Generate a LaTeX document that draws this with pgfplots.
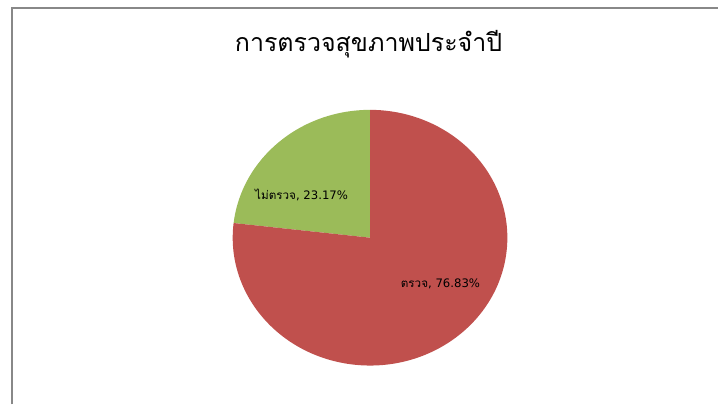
\documentclass[border=0pt]{standalone}
\usepackage{pgfplots}
\pgfplotsset{compat=1.18}
\usepackage{fontspec}
\setmainfont{DejaVu Sans}
\newfontfamily\thaifont[Script=Thai]{Loma}

\definecolor{sliceRed}{RGB}{192,80,77}
\definecolor{sliceGreen}{RGB}{155,187,89}
\definecolor{frameGray}{RGB}{136,136,136}

% shares (percent)
\def\valCheck{76.83}   % ตรวจ
\def\valNoCheck{23.17} % ไม่ตรวจ

\begin{document}
\begin{tikzpicture}
\begin{axis}[
    x=1pt, y=1pt,
    xmin=0, xmax=719, ymin=0, ymax=405,
    hide axis, clip=false,
]
    \path (axis cs:0,0) rectangle (axis cs:719,405);
    % chart frame (left and top edges visible)
    \draw[frameGray, line width=1.8pt] (axis cs:12,0) -- (axis cs:12,397) -- (axis cs:719,397);

    \pgfmathsetmacro\angSplit{90+3.6*\valNoCheck}
    % green slice: ไม่ตรวจ, counterclockwise from 12 o'clock
    \fill[sliceGreen] (axis cs:370.5,167) -- ++(90:137.5pt and 128pt)
        arc[start angle=90, end angle=\angSplit, x radius=137.5pt, y radius=128pt] -- cycle;
    % red slice: ตรวจ
    \fill[sliceRed] (axis cs:370.5,167) -- ++(\angSplit:137.5pt and 128pt)
        arc[start angle=\angSplit, end angle=450, x radius=137.5pt, y radius=128pt] -- cycle;

    \node[font=\fontsize{11.7}{14}\selectfont] at (axis cs:302,210)
        {{\thaifont ไม่ตรวจ}, \valNoCheck\%};
    \node[font=\fontsize{11.7}{14}\selectfont] at (axis cs:441,121)
        {{\thaifont ตรวจ}, \valCheck\%};

    \node[anchor=base, font=\fontsize{25}{30}\selectfont\thaifont] at (axis cs:369,353)
        {การตรวจสุขภาพประจำปี};
\end{axis}
\end{tikzpicture}
\end{document}
